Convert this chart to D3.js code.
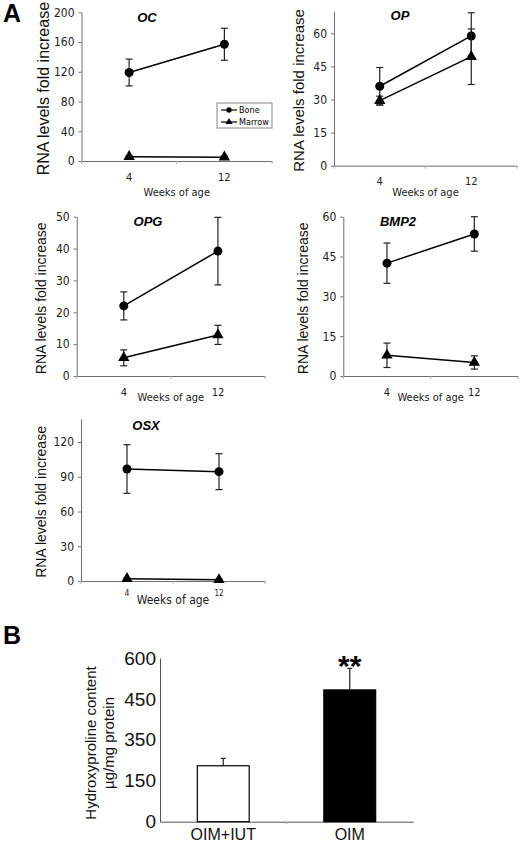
<!DOCTYPE html>
<html>
<head>
<meta charset="utf-8">
<script src="https://cdn.jsdelivr.net/npm/d3@7"></script>
<style>
  body { margin: 0; background: #fff; }
  svg { display: block; }
</style>
</head>
<body>
<div id="chart-area"></div>
<script>
// ---- data ----
var weeks = ["4", "12"];

var ocBone = [119, 157],     ocBoneErr = [18, 21.5];
var ocMarrow = [5.8, 5.2],   ocMarrowErr = [1.5, 1.5];
var ocTicks = [0, 40, 80, 120, 160, 200];

var opBone = [36, 58.8],     opBoneErr = [8.5, 10.5];
var opMarrow = [29.5, 49.4], opMarrowErr = [2, 12.6];
var opTicks = [0, 15, 30, 45, 60];

var opgBone = [22, 39.2],    opgBoneErr = [4.4, 10.6];
var opgMarrow = [5.7, 12.9], opgMarrowErr = [2.5, 3];
var opgTicks = [0, 10, 20, 30, 40, 50];

var bmpBone = [42.5, 53.5],  bmpBoneErr = [7.6, 6.5];
var bmpMarrow = [7.8, 5.1],  bmpMarrowErr = [4.6, 2.5];
var bmpTicks = [0, 15, 30, 45, 60];

var osxBone = [96.7, 94.4],  osxBoneErr = [21, 15.5];
var osxMarrow = [2, 1],      osxMarrowErr = [0.6, 0.6];
var osxTicks = [0, 30, 60, 90, 120];

var groups = ["OIM+IUT", "OIM"];
var hypro = [205, 483];
var hyproErr = [27, 79];
var hyproTicks = [0, 150, 300, 450, 600];
var hyproTickLabels = ["0", "150", "350", "450", "600"];

var seriesNames = ["Bone", "Marrow"];

// ---- layout ----
var svg = d3.select("#chart-area")
    .append("svg")
        .attr("width", 520)
        .attr("height", 843);

var AXIS = "#6e6e6e";
var NARROW = "'Liberation Sans Narrow', 'DejaVu Sans Condensed', 'Liberation Sans', sans-serif";
var ARIAL = "'Liberation Sans', Arial, sans-serif";

svg.append("text").attr("x", 3).attr("y", 22)
    .attr("font-family", ARIAL).attr("font-weight", "bold").attr("font-size", "25px")
    .text("A");
svg.append("text").attr("x", 3).attr("y", 644)
    .attr("font-family", ARIAL).attr("font-weight", "bold").attr("font-size", "25px")
    .text("B");

var panels = [
    { title: "OC", bone: ocBone, boneErr: ocBoneErr, marrow: ocMarrow, marrowErr: ocMarrowErr, ticks: ocTicks,
      max: 200, x0: 81.5, x1: 272, y0: 161, yTop: 12.3,
      titleX: 147, titleY: 22, labX: 43, labSize: 16, tickDy: 12, tickSize: 11, weeksY: 195.5, weeksSize: 11, legend: true },
    { title: "OP", bone: opBone, boneErr: opBoneErr, marrow: opMarrow, marrowErr: opMarrowErr, ticks: opTicks,
      max: 70, x0: 334, x1: 517, y0: 165.7, yTop: 165.7 - 70 * (132.4 / 60),
      titleX: 400, titleY: 20, labX: 299, labSize: 15, tickDy: 12, tickSize: 11, weeksY: 195.5, weeksSize: 11 },
    { title: "OPG", bone: opgBone, boneErr: opgBoneErr, marrow: opgMarrow, marrowErr: opgMarrowErr, ticks: opgTicks,
      max: 50, x0: 76.7, x1: 265, y0: 376, yTop: 216.7,
      titleX: 148, titleY: 226, labX: 41.5, labSize: 14, tickDy: 12, tickSize: 11, weeksY: 401, weeksSize: 11 },
    { title: "BMP2", bone: bmpBone, boneErr: bmpBoneErr, marrow: bmpMarrow, marrowErr: bmpMarrowErr, ticks: bmpTicks,
      max: 60, x0: 343.3, x1: 518, y0: 376, yTop: 216.7,
      titleX: 398, titleY: 226, labX: 303, labSize: 14, tickDy: 12, tickSize: 11, weeksY: 401, weeksSize: 11 },
    { title: "OSX", bone: osxBone, boneErr: osxBoneErr, marrow: osxMarrow, marrowErr: osxMarrowErr, ticks: osxTicks,
      max: 140, x0: 81, x1: 265, y0: 581, yTop: 581 - 140 * (139 / 120),
      titleX: 146, titleY: 430, labX: 41.5, labSize: 14, tickDy: 9, tickSize: 8, weeksY: 604, weeksSize: 12 }
];

panels.forEach(function(p) {
    var g = svg.append("g");

    var xScale = d3.scaleBand()
        .domain(weeks)
        .range([p.x0, p.x1]);

    var yScale = d3.scaleLinear()
        .domain([0, p.max])
        .range([p.y0, p.yTop]);

    // y axis
    var yAxisCall = d3.axisLeft(yScale)
        .tickValues(p.ticks)
        .tickSize(3)
        .tickPadding(4)
        .tickSizeOuter(0);

    var yAx = g.append("g")
        .attr("transform", "translate(" + p.x0 + ",0)")
        .call(yAxisCall);
    yAx.selectAll("path, line").attr("stroke", AXIS);
    yAx.selectAll("text")
        .attr("font-family", NARROW)
        .attr("font-size", "12px")
        .attr("fill", "#222");

    // x axis: labels at centres, ticks at category boundaries
    var xAxisCall = d3.axisBottom(xScale)
        .tickSize(0)
        .tickPadding(p.tickDy)
        .tickSizeOuter(0);

    var xAx = g.append("g")
        .attr("transform", "translate(0," + p.y0 + ")")
        .call(xAxisCall);
    xAx.select(".domain").attr("stroke", AXIS);
    xAx.selectAll("text")
        .attr("font-family", NARROW)
        .attr("font-size", p.tickSize + "px")
        .attr("fill", "#222");

    g.selectAll(".bound")
        .data(d3.range(weeks.length + 1))
        .enter().append("line")
            .attr("x1", function(i) { return p.x0 + i * xScale.step(); })
            .attr("x2", function(i) { return p.x0 + i * xScale.step(); })
            .attr("y1", p.y0)
            .attr("y2", p.y0 + 3)
            .attr("stroke", "#b0b0b0");

    g.append("text")
        .attr("x", (p.x0 + p.x1) / 2)
        .attr("y", p.weeksY)
        .attr("text-anchor", "middle")
        .attr("font-family", NARROW)
        .attr("font-size", p.weeksSize + "px")
        .attr("fill", "#222")
        .text("Weeks of age");

    g.append("text")
        .attr("transform", "translate(" + p.labX + "," + ((p.y0 + p.yTop) / 2 + 2) + ") rotate(-90)")
        .attr("text-anchor", "middle")
        .attr("dy", "0.35em")
        .attr("font-family", ARIAL)
        .attr("font-size", p.labSize + "px")
        .attr("fill", "#111")
        .text("RNA levels fold increase");

    g.append("text")
        .attr("x", p.titleX)
        .attr("y", p.titleY)
        .attr("text-anchor", "middle")
        .attr("font-family", ARIAL)
        .attr("font-weight", "bold")
        .attr("font-style", "italic")
        .attr("font-size", "13px")
        .text(p.title);

    var cx = function(d, i) { return xScale(weeks[i]) + xScale.bandwidth() / 2; };

    [[p.bone, p.boneErr, "circle"], [p.marrow, p.marrowErr, "triangle"]].forEach(function(s) {
        var vals = s[0], errs = s[1];

        // error bars
        var eb = g.append("g").selectAll("g")
            .data(vals)
            .enter().append("g")
            .attr("stroke", "#222")
            .attr("stroke-width", 1.2);
        eb.append("line")
            .attr("x1", cx).attr("x2", cx)
            .attr("y1", function(d, i) { return yScale(d + errs[i]); })
            .attr("y2", function(d, i) { return yScale(Math.max(0, d - errs[i])); });
        eb.append("line")
            .attr("x1", function(d, i) { return cx(d, i) - 3.5; })
            .attr("x2", function(d, i) { return cx(d, i) + 3.5; })
            .attr("y1", function(d, i) { return yScale(d + errs[i]); })
            .attr("y2", function(d, i) { return yScale(d + errs[i]); });
        eb.append("line")
            .attr("x1", function(d, i) { return cx(d, i) - 3.5; })
            .attr("x2", function(d, i) { return cx(d, i) + 3.5; })
            .attr("y1", function(d, i) { return yScale(Math.max(0, d - errs[i])); })
            .attr("y2", function(d, i) { return yScale(Math.max(0, d - errs[i])); });

        var line = d3.line()
            .x(function(d, i) { return cx(d, i); })
            .y(function(d) { return yScale(d); });

        g.append("path")
            .attr("d", line(vals))
            .attr("fill", "none")
            .attr("stroke", "black")
            .attr("stroke-width", 1.5);

        g.append("g").selectAll("path")
            .data(vals)
            .enter().append("path")
                .attr("transform", function(d, i) {
                    return "translate(" + cx(d, i) + "," + yScale(d) + ")";
                })
                .attr("d", d3.symbol()
                    .type(s[2] == "circle" ? d3.symbolCircle : d3.symbolTriangle)
                    .size(s[2] == "circle" ? 64 : 56))
                .attr("fill", "black");
    });

    if (p.legend) {
        var lg = g.append("g").attr("transform", "translate(217,103)");
        lg.append("rect")
            .attr("width", 55).attr("height", 25)
            .attr("fill", "white")
            .attr("stroke", "#888");
        seriesNames.forEach(function(name, k) {
            var yy = 7 + k * 12;
            lg.append("line")
                .attr("x1", 4).attr("x2", 20)
                .attr("y1", yy).attr("y2", yy)
                .attr("stroke", "black").attr("stroke-width", 1.2);
            lg.append("path")
                .attr("transform", "translate(12," + yy + ")")
                .attr("d", d3.symbol().type(k == 0 ? d3.symbolCircle : d3.symbolTriangle).size(22))
                .attr("fill", "black");
            lg.append("text")
                .attr("x", 22).attr("y", yy)
                .attr("dy", "0.35em")
                .attr("font-family", NARROW)
                .attr("font-size", "9px")
                .text(name);
        });
    }
});

// ---- panel B ----
var gb = svg.append("g");

var xB = d3.scaleBand()
    .domain(groups)
    .range([160, 413])
    .paddingInner(0.59)
    .paddingOuter(0.295);

var yB = d3.scaleLinear()
    .domain([0, 600])
    .range([821.7, 658]);

var yAxB = gb.append("g")
    .attr("transform", "translate(160,0)")
    .call(d3.axisLeft(yB)
        .tickValues(hyproTicks)
        .tickSize(0)
        .tickPadding(4)
        .tickSizeOuter(0)
        .tickFormat(function(d, i) { return hyproTickLabels[i]; }));
yAxB.select(".domain").attr("stroke", "#555");
yAxB.selectAll("text")
    .attr("font-family", ARIAL)
    .attr("font-size", "19px")
    .attr("fill", "#111");

var xAxB = gb.append("g")
    .attr("transform", "translate(0,821.7)")
    .call(d3.axisBottom(xB).tickSize(0).tickPadding(7).tickSizeOuter(0));
xAxB.select(".domain").attr("stroke", "#555");
xAxB.selectAll("text")
    .attr("font-family", ARIAL)
    .attr("font-size", "16px")
    .attr("fill", "#111");

gb.append("line")
    .attr("x1", 160 + xB.step()).attr("x2", 160 + xB.step())
    .attr("y1", 821.7).attr("y2", 824)
    .attr("stroke", "#aaa");

gb.selectAll(".err")
    .data(hypro)
    .enter().append("line")
        .attr("x1", function(d, i) { return xB(groups[i]) + xB.bandwidth() / 2; })
        .attr("x2", function(d, i) { return xB(groups[i]) + xB.bandwidth() / 2; })
        .attr("y1", function(d) { return yB(d); })
        .attr("y2", function(d, i) { return yB(d + hyproErr[i]); })
        .attr("stroke", "#222")
        .attr("stroke-width", 1.2);
gb.selectAll(".cap")
    .data(hypro)
    .enter().append("line")
        .attr("x1", function(d, i) { return xB(groups[i]) + xB.bandwidth() / 2 - 2.5; })
        .attr("x2", function(d, i) { return xB(groups[i]) + xB.bandwidth() / 2 + 2.5; })
        .attr("y1", function(d, i) { return yB(d + hyproErr[i]); })
        .attr("y2", function(d, i) { return yB(d + hyproErr[i]); })
        .attr("stroke", "#222")
        .attr("stroke-width", 1.2);

gb.selectAll("rect")
    .data(hypro)
    .enter().append("rect")
        .attr("x", function(d, i) { return xB(groups[i]); })
        .attr("y", function(d) { return yB(d); })
        .attr("width", xB.bandwidth())
        .attr("height", function(d) { return yB(0) - yB(d); })
        .attr("fill", function(d, i) { return i == 0 ? "white" : "black"; })
        .attr("stroke", "black")
        .attr("stroke-width", 1.2);

gb.append("text")
    .attr("x", xB("OIM") + xB.bandwidth() / 2)
    .attr("y", 676)
    .attr("text-anchor", "middle")
    .attr("font-family", ARIAL)
    .attr("font-weight", "bold")
    .attr("font-size", "30px")
    .text("**");

var yl = gb.append("text")
    .attr("transform", "translate(99,743) rotate(-90)")
    .attr("text-anchor", "middle")
    .attr("font-family", ARIAL)
    .attr("font-size", "15px")
    .attr("fill", "#111");
yl.append("tspan").attr("x", 0).attr("y", -3).text("Hydroxyproline content");
yl.append("tspan").attr("x", 0).attr("y", 15).text("µg/mg protein");
</script>
</body>
</html>
